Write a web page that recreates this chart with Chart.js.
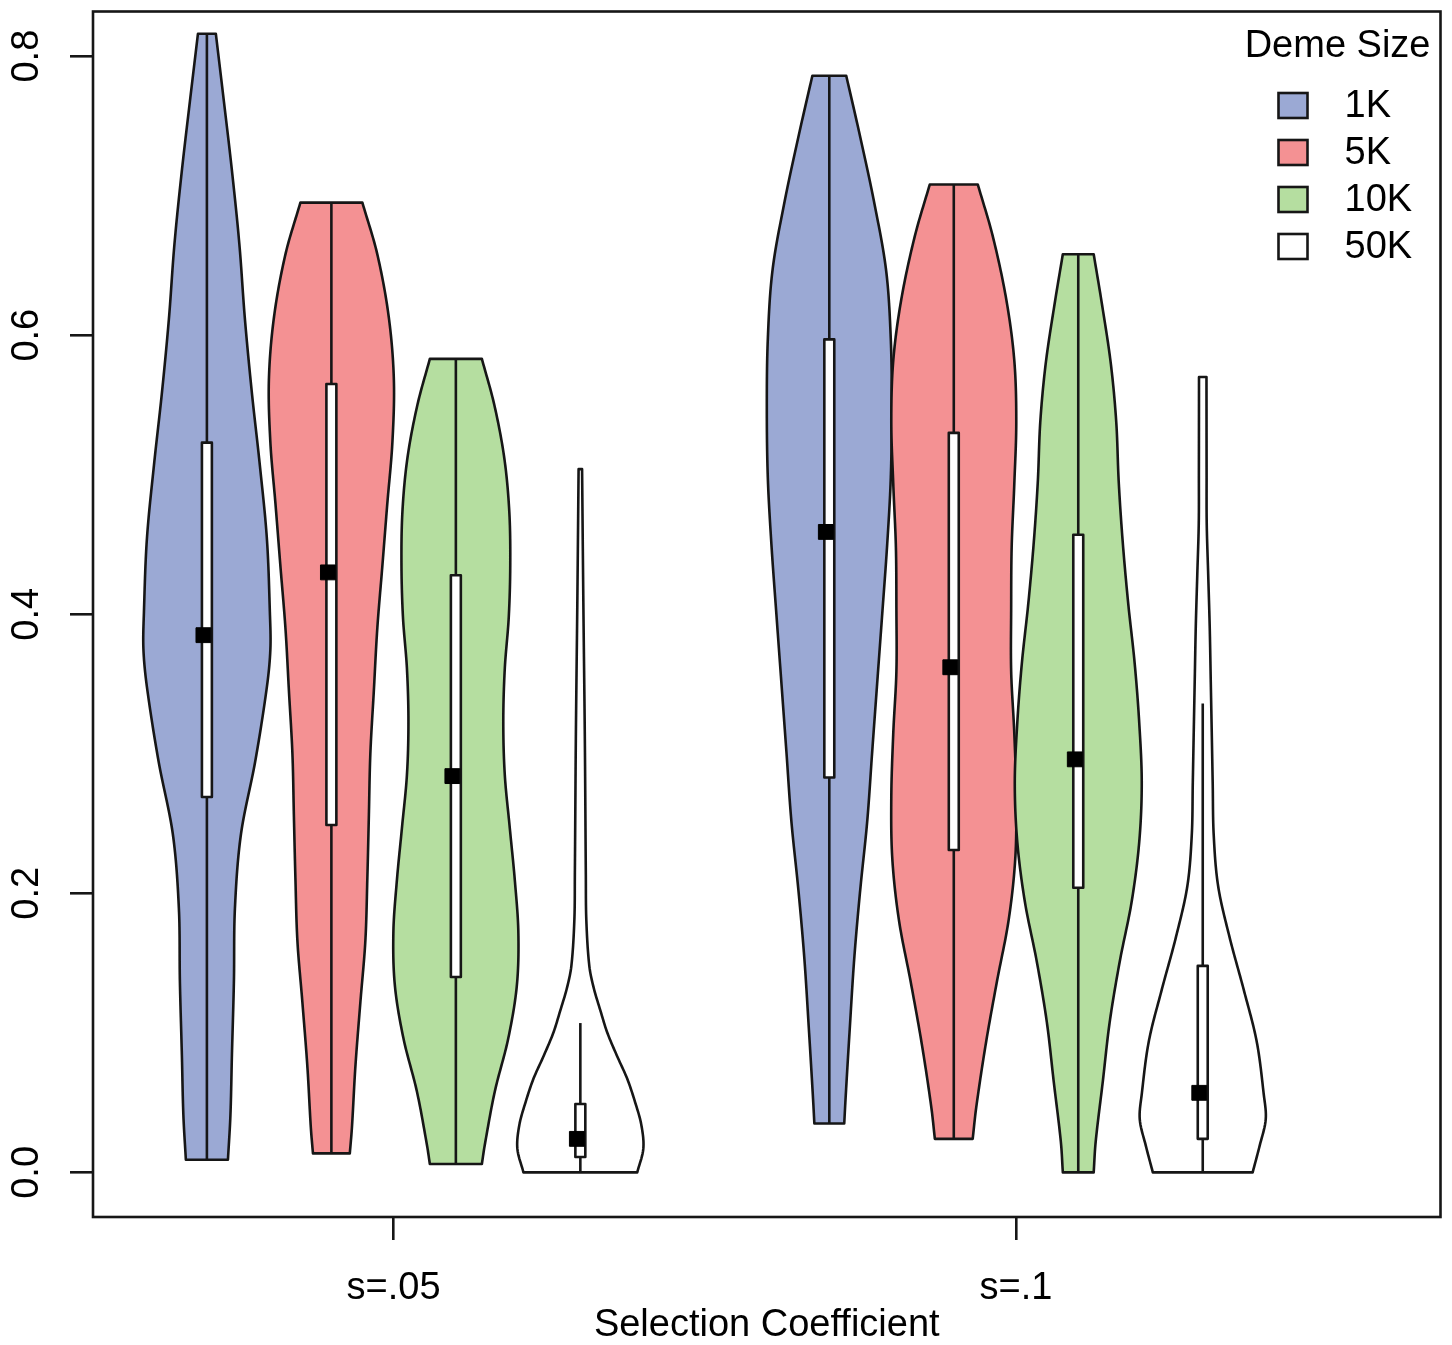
<!DOCTYPE html>
<html>
<head>
<meta charset="utf-8">
<title>Deme size violins</title>
<script src="https://cdn.jsdelivr.net/npm/chart.js@4.4.1/dist/chart.umd.min.js"></script>
<style>
  html, body { margin: 0; padding: 0; background: #fff; }
  #wrap { width: 1452px; height: 1345px; position: relative; }
</style>
</head>
<body>
<div id="wrap"><canvas id="violins"></canvas></div>
<script>
// groups on the x axis and the deme sizes drawn inside each group
const groups = ['s=.05', 's=.1'];
const groupPos = [2.5, 7.5];
const demeSizes = ['1K', '5K', '10K', '50K'];
const demeColors = ['#9ba9d4', '#f49193', '#b5dea0', '#ffffff'];
const yTicks = [0, 0.2, 0.4, 0.6, 0.8];

// one violin per group / deme size
const violinPos = [1, 2, 3, 4, 6, 7, 8, 9];
const violinDeme = [0, 1, 2, 3, 0, 1, 2, 3];

// box plot summaries
const medians = [0.385, 0.430, 0.284, 0.024, 0.459, 0.362, 0.296, 0.057];
const q1 = [0.269, 0.249, 0.140, 0.011, 0.283, 0.231, 0.204, 0.024];
const q3 = [0.523, 0.565, 0.428, 0.049, 0.597, 0.530, 0.457, 0.148];
const whiskLo = [0.009, 0.0136, 0.006, 0.0, 0.035, 0.024, 0.0, 0.0];
const whiskHi = [0.816, 0.695, 0.583, 0.107, 0.786, 0.708, 0.658, 0.336];

// density outline: value levels and the violin half width at each level
const outlineLevels = [
  [0.009, 0.041, 0.084, 0.137, 0.189, 0.242, 0.295, 0.348, 0.375, 0.401, 0.454, 0.507, 0.559, 0.612, 0.665, 0.718, 0.771, 0.816],
  [0.0136, 0.032, 0.076, 0.122, 0.166, 0.211, 0.255, 0.300, 0.345, 0.390, 0.434, 0.479, 0.523, 0.568, 0.613, 0.658, 0.695],
  [0.006, 0.020, 0.058, 0.096, 0.134, 0.172, 0.209, 0.247, 0.285, 0.323, 0.361, 0.398, 0.436, 0.474, 0.512, 0.550, 0.583],
  [0.0, 0.017, 0.034, 0.050, 0.067, 0.083, 0.100, 0.116, 0.132, 0.148, 0.181, 0.214, 0.312, 0.410, 0.504],
  [0.035, 0.055, 0.104, 0.154, 0.203, 0.252, 0.302, 0.351, 0.400, 0.450, 0.498, 0.548, 0.597, 0.646, 0.695, 0.745, 0.786],
  [0.024, 0.047, 0.092, 0.136, 0.181, 0.225, 0.269, 0.315, 0.359, 0.404, 0.448, 0.493, 0.538, 0.582, 0.626, 0.671, 0.708],
  [0.0, 0.022, 0.065, 0.108, 0.151, 0.194, 0.237, 0.279, 0.322, 0.365, 0.408, 0.452, 0.495, 0.538, 0.580, 0.623, 0.658],
  [0.0, 0.019, 0.038, 0.056, 0.094, 0.131, 0.168, 0.205, 0.242, 0.279, 0.317, 0.354, 0.391, 0.428, 0.465, 0.500, 0.570]
];
const outlineWidths = [
  [0.169, 0.189, 0.201, 0.217, 0.225, 0.273, 0.389, 0.482, 0.510, 0.506, 0.482, 0.425, 0.361, 0.305, 0.261, 0.201, 0.132, 0.072],
  [0.148, 0.165, 0.193, 0.233, 0.273, 0.289, 0.301, 0.313, 0.341, 0.369, 0.409, 0.449, 0.490, 0.502, 0.461, 0.369, 0.249],
  [0.209, 0.233, 0.313, 0.421, 0.490, 0.502, 0.474, 0.433, 0.393, 0.381, 0.393, 0.425, 0.437, 0.429, 0.389, 0.309, 0.209],
  [0.457, 0.506, 0.490, 0.441, 0.377, 0.297, 0.217, 0.161, 0.108, 0.072, 0.048, 0.044, 0.036, 0.024, 0.014],
  [0.120, 0.132, 0.165, 0.201, 0.249, 0.305, 0.345, 0.385, 0.425, 0.465, 0.494, 0.502, 0.494, 0.457, 0.361, 0.241, 0.136],
  [0.152, 0.181, 0.257, 0.345, 0.441, 0.494, 0.502, 0.486, 0.461, 0.461, 0.465, 0.486, 0.502, 0.486, 0.421, 0.313, 0.193],
  [0.124, 0.140, 0.197, 0.253, 0.333, 0.429, 0.490, 0.510, 0.490, 0.453, 0.401, 0.357, 0.325, 0.305, 0.261, 0.189, 0.124],
  [0.401, 0.457, 0.506, 0.490, 0.433, 0.329, 0.217, 0.124, 0.088, 0.080, 0.072, 0.064, 0.056, 0.044, 0.032, 0.031, 0.030]
];

const FONT = '"Liberation Sans", Arial, Helvetica, sans-serif';
const boxHalf = 0.04;
const medianShift = 0.028;
const ink = '#161616';
const lw = 2.6;

// cubic hermite through the outline levels (catmull-rom slopes), half width as a function of value
function outlineCurve(xs, ys) {
  const n = xs.length;
  const m = xs.map((_, i) => {
    const a = Math.max(i - 1, 0), b = Math.min(i + 1, n - 1);
    return (ys[b] - ys[a]) / (xs[b] - xs[a]);
  });
  return v => {
    let i = 0;
    while (i < n - 2 && v > xs[i + 1]) i++;
    const h = xs[i + 1] - xs[i], t = (v - xs[i]) / h;
    const t2 = t * t, t3 = t2 * t;
    const w = (2 * t3 - 3 * t2 + 1) * ys[i] + (t3 - 2 * t2 + t) * h * m[i] +
              (-2 * t3 + 3 * t2) * ys[i + 1] + (t3 - t2) * h * m[i + 1];
    return Math.max(w, 0.008);
  };
}

const violinPlugin = {
  id: 'violins',
  beforeDatasetsDraw(chart) {
    const { ctx, scales: { x, y } } = chart;
    ctx.save();
    ctx.lineJoin = 'round';
    violinPos.forEach((pos, i) => {
      const lv = outlineLevels[i];
      const width = outlineCurve(lv, outlineWidths[i]);
      const lo = lv[0], hi = lv[lv.length - 1], steps = 300;
      const samples = [];
      for (let k = 0; k <= steps; k++) {
        const v = lo + (hi - lo) * k / steps;
        samples.push([v, width(v)]);
      }
      ctx.beginPath();
      samples.forEach(([v, w], k) => {
        const px = x.getPixelForValue(pos - w), py = y.getPixelForValue(v);
        if (k === 0) ctx.moveTo(px, py); else ctx.lineTo(px, py);
      });
      for (let k = samples.length - 1; k >= 0; k--) {
        const [v, w] = samples[k];
        ctx.lineTo(x.getPixelForValue(pos + w), y.getPixelForValue(v));
      }
      ctx.closePath();
      ctx.fillStyle = demeColors[violinDeme[i]];
      ctx.fill();
      ctx.lineWidth = lw;
      ctx.strokeStyle = ink;
      ctx.stroke();

      // whisker
      const cx = x.getPixelForValue(pos);
      ctx.beginPath();
      ctx.moveTo(cx, y.getPixelForValue(whiskLo[i]));
      ctx.lineTo(cx, y.getPixelForValue(whiskHi[i]));
      ctx.stroke();

      // inter-quartile box
      const bl = x.getPixelForValue(pos - boxHalf), br = x.getPixelForValue(pos + boxHalf);
      const bt = y.getPixelForValue(q3[i]), bb = y.getPixelForValue(q1[i]);
      ctx.fillStyle = '#fff';
      ctx.fillRect(bl, bt, br - bl, bb - bt);
      ctx.strokeRect(bl, bt, br - bl, bb - bt);
    });
    ctx.restore();
  },
  afterDraw(chart) {
    const { ctx, chartArea: ca } = chart;
    ctx.save();
    // plot frame
    ctx.lineWidth = lw;
    ctx.strokeStyle = ink;
    ctx.strokeRect(ca.left, ca.top, ca.right - ca.left, ca.bottom - ca.top);

    // legend
    ctx.font = '38px ' + FONT;
    ctx.fillStyle = '#000';
    ctx.textBaseline = 'middle';
    ctx.textAlign = 'right';
    ctx.fillText('Deme Size', ca.right - 10, ca.top + 35);
    demeSizes.forEach((d, i) => {
      const cy = ca.top + 94 + i * 47;
      ctx.fillStyle = demeColors[i];
      ctx.fillRect(ca.right - 162, cy - 12.5, 29, 25);
      ctx.strokeRect(ca.right - 162, cy - 12.5, 29, 25);
      ctx.fillStyle = '#000';
      ctx.textAlign = 'left';
      ctx.fillText(d, ca.right - 96, cy + 1);
    });
    ctx.restore();
  }
};

const tickFont = { family: FONT, size: 38 };

new Chart(document.getElementById('violins'), {
  type: 'scatter',
  data: {
    datasets: [{
      label: 'median',
      data: medians.map((m, i) => ({ x: violinPos[i] - medianShift, y: m })),
      pointStyle: 'rect',
      pointRadius: 10.5,
      pointHoverRadius: 10.5,
      backgroundColor: '#000',
      borderColor: '#000'
    }]
  },
  options: {
    responsive: true,
    maintainAspectRatio: false,
    animation: false,
    events: [],
    layout: { padding: { top: 8, right: 9, left: 0, bottom: 0 } },
    plugins: { legend: { display: false }, tooltip: { enabled: false } },
    scales: {
      x: {
        type: 'linear',
        min: 0.085,
        max: 10.91,
        afterBuildTicks: s => { s.ticks = groupPos.map(v => ({ value: v })); },
        afterFit: s => { s.height = 128; s.paddingLeft = 0; s.paddingRight = 0; },
        ticks: {
          callback: v => groups[groupPos.indexOf(v)],
          font: tickFont,
          color: '#000',
          padding: 26,
          autoSkip: false,
          maxRotation: 0
        },
        grid: { drawOnChartArea: false, drawTicks: true, tickLength: 23, color: ink, lineWidth: lw },
        border: { display: false },
        title: {
          display: true,
          text: 'Selection Coefficient',
          font: { family: FONT, size: 38, lineHeight: 1 },
          color: '#000',
          padding: { top: 0, bottom: 0 }
        }
      },
      y: {
        type: 'linear',
        min: -0.032,
        max: 0.832,
        afterBuildTicks: s => { s.ticks = yTicks.map(v => ({ value: v })); },
        afterFit: s => { s.width = 93; s.paddingTop = 0; s.paddingBottom = 0; },
        ticks: {
          callback: v => v.toFixed(1),
          minRotation: 90,
          maxRotation: 90,
          crossAlign: 'center',
          padding: 16,
          font: tickFont,
          color: '#000'
        },
        grid: { drawOnChartArea: false, drawTicks: true, tickLength: 23, color: ink, lineWidth: lw },
        border: { display: false }
      }
    }
  },
  plugins: [violinPlugin]
});
</script>
</body>
</html>
